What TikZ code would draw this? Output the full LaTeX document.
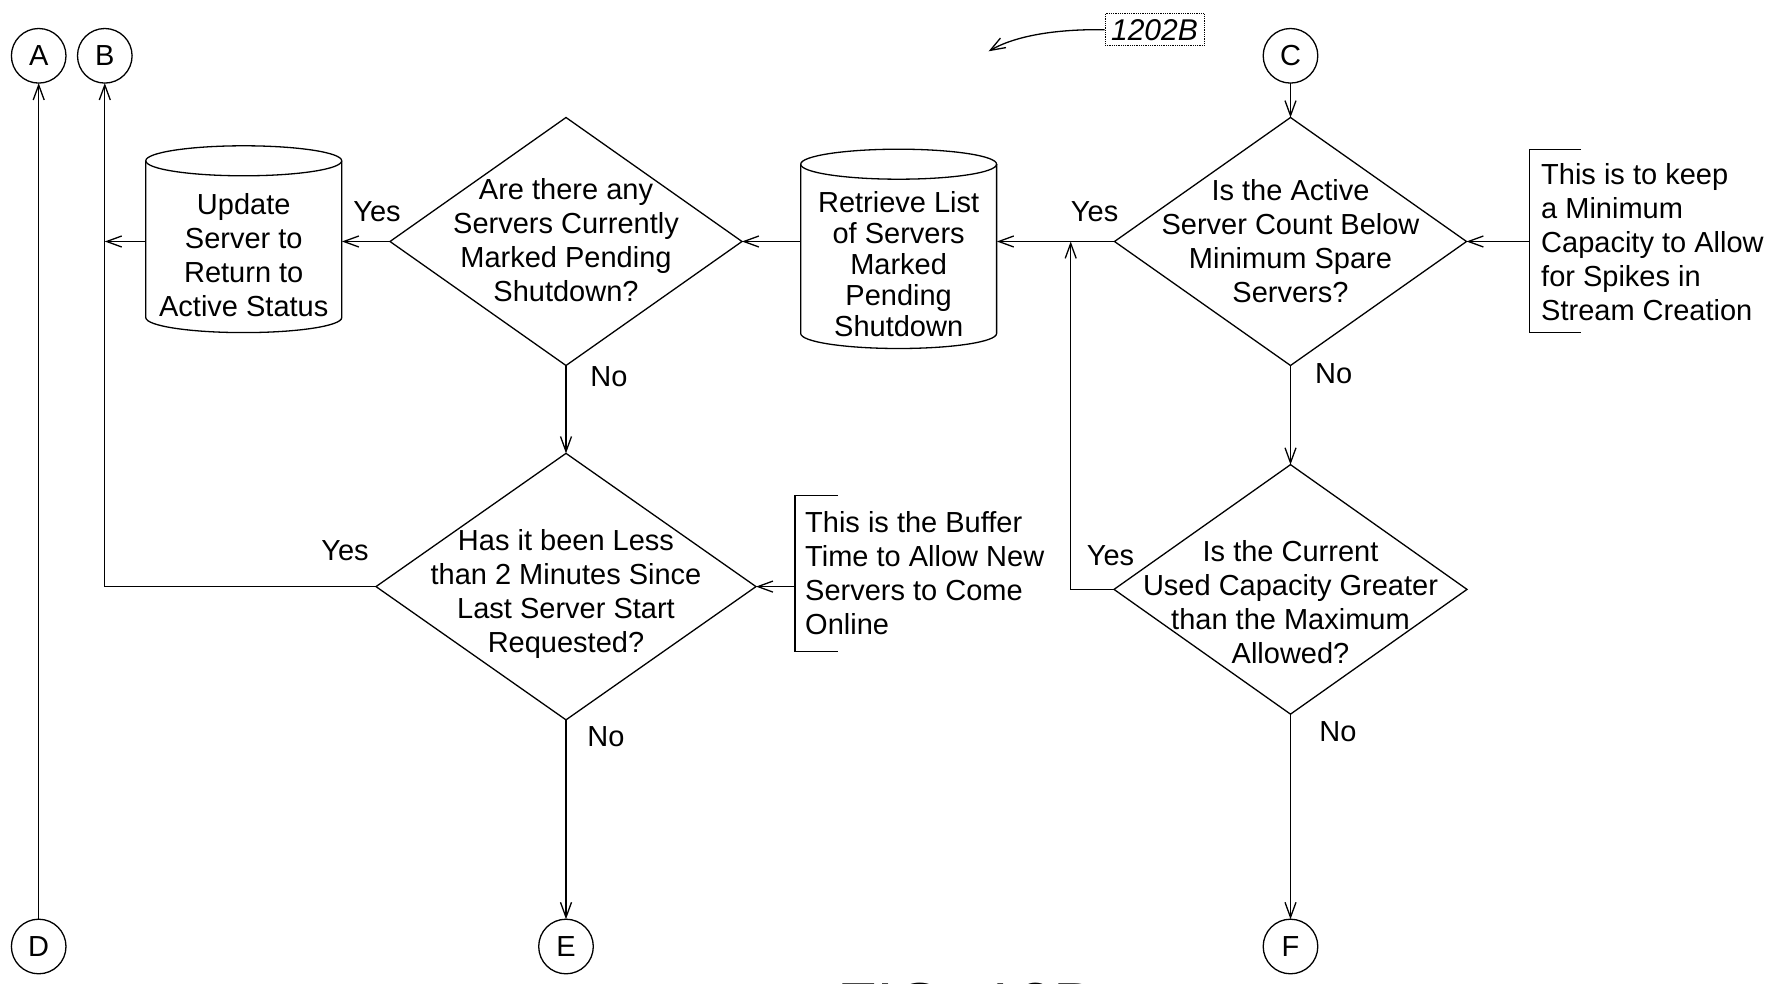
\documentclass[tikz,border=0pt]{standalone}
\usepackage{fontspec}
\setmainfont{Liberation Sans}
\usetikzlibrary{arrows.meta,shapes.geometric,calc}
\newcommand{\cylout}[6]{% cx, x-left, x-right, top, bottom, ry
  \draw[ln] (#2,#4+#6) -- (#2,#5-#6) arc[start angle=180,end angle=360,x radius={((#3)-(#2))/2*1pt},y radius=#6pt] -- (#3,#4+#6);
  \draw[ln] (#1,#4+#6) ellipse[x radius={((#3)-(#2))/2*1pt},y radius=#6pt];}
\begin{document}
\begin{tikzpicture}[x=1pt,y=-1pt,
  every node/.style={font=\fontsize{29}{34}\selectfont},
  ln/.style={line width=1.3pt},
  arr/.style={ln,-{Straight Barb[length=15pt,width=11pt,line width=1.3pt]}},
  conn/.style={circle,draw,line width=1.3pt,minimum size=54.6pt,inner sep=0pt,outer sep=0pt},
  dia/.style={diamond,draw,line width=1.3pt,inner sep=0pt,outer sep=0pt},
  txt/.style={align=center,inner sep=0pt},
  cyltxt/.style={align=center,inner sep=0pt,minimum width=196pt},
  ann/.style={align=left,inner sep=0pt,anchor=west},
  lab/.style={inner sep=0pt},
  brk/.style={line width=1.1pt}
]
\useasboundingbox (0,0) rectangle (1786,984);

% connectors (circles)
\node[conn] (A) at (38.7,55.8) {A};
\node[conn] (B) at (104.8,55.8) {B};
\node[conn] (C) at (1290.5,55.8) {C};
\node[conn] (D) at (38.7,946.5) {D};
\node[conn] (E) at (566,946.5) {E};
\node[conn] (F) at (1290.5,946.5) {F};

% diamonds
\node[dia,minimum width=352pt,minimum height=248pt] (d1) at (566,241.5) {};
\node[dia,minimum width=352pt,minimum height=248pt] (c1) at (1290.5,241.5) {};
\node[dia,minimum width=380pt,minimum height=266.5pt] (d2) at (566,586.6) {};
\node[dia,minimum width=353pt,minimum height=249.5pt] (c2) at (1290.5,589.4) {};

\node[txt] (d1t) at (566,240) {Are there any\\Servers Currently\\Marked Pending\\Shutdown?};
\node[txt] (c1t) at (1290.5,241.5) {Is the Active\\Server Count Below\\Minimum Spare\\Servers?};
\node[txt] (d2t) at (566,594) {Has it been Less\\than 2 Minutes Since\\Last Server Start\\Requested?};
\node[txt] (c2t) at (1290.5,602) {Is the Current\\Used Capacity Greater\\than the Maximum\\Allowed?};

% cylinders
\cylout{243.75}{145.8}{341.7}{145.8}{332.6}{15}
\cylout{898.65}{800.7}{996.6}{149.2}{348.5}{15}
\node[cyltxt] (u1) at (243.75,255.5) {Update\\Server to\\Return to\\Active Status};
\node[cyltxt,font=\fontsize{29}{31}\selectfont] (r2) at (898.65,264) {Retrieve List\\of Servers\\Marked\\Pending\\Shutdown};

% annotations
\draw[brk] (1581,149.2) -- (1529.7,149.2) -- (1529.7,332.6) -- (1581,332.6);
\coordinate (b1) at (1529.7,241.5);
\node[ann] (n1) at (1541,242.5) {This is to keep\\a Minimum\\Capacity to Allow\\for Spikes in\\Stream Creation};
\draw[brk] (838,495.5) -- (795,495.5) -- (795,651.5) -- (838,651.5);
\coordinate (b2) at (795,586.6);
\node[ann] (n2) at (805,573.5) {This is the Buffer\\Time to Allow New\\Servers to Come\\Online};

% junction for loop
\coordinate (jn) at (1070.7,241.5);

% arrows
\draw[arr] (D) -- (A);
\draw[arr] (d2.west) -| (B);
\draw[arr] (d1.west -| u1.west) -- (d1.west -| B);
\draw[arr] (d1.west) -- (d1.west -| u1.east);
\draw[arr] (d1.east -| r2.west) -- (d1.east);
\draw[arr] (c1.west) -- (c1.west -| r2.east);
\draw[arr] (c2.west) -- (c2.west -| jn) -- (jn);
\draw[arr] (C.south) -- (c1.north);
\draw[arr] (c1.south) -- (c2.north);
\draw[arr] (c2.south) -- (F.north);
\draw[arr] (d1.south) -- (d2.north);
\draw[arr] (d2.south) -- (E.north);
\draw[arr] (b1) -- (c1.east);
\draw[arr] (b2) -- (d2.east);

% labels
\node[lab] (y1) at (377,212) {Yes};
\node[lab] (no1) at (609,377) {No};
\node[lab] (y2) at (1094.6,212) {Yes};
\node[lab] (no2) at (1333.7,373.6) {No};
\node[lab] (y3) at (345,551) {Yes};
\node[lab] (no3) at (606,737) {No};
\node[lab] (y4) at (1110.5,556) {Yes};
\node[lab] (no4) at (1338,732) {No};

% reference label
\node[draw,densely dotted,line width=0.8pt,minimum width=99pt,minimum height=32pt,inner sep=0pt,font=\fontsize{30}{34}\selectfont\itshape] (ref) at (1154.5,29.7) {1202B};
\coordinate (reftip) at (988.6,51.3);
\draw[ln,-{Straight Barb[length=15pt,width=11pt,line width=1.3pt]}] (ref.west) .. controls (1055,29) and (1015,36) .. (reftip);

% figure caption (cut off at the bottom edge)
\begin{scope}
\clip (0,0) rectangle (1786,984);
\node[anchor=base west,inner sep=0pt,font=\fontsize{65}{70}\selectfont] (fig) at (837,1028) {FIG.\ 12B};
\end{scope}
\end{tikzpicture}
\end{document}
